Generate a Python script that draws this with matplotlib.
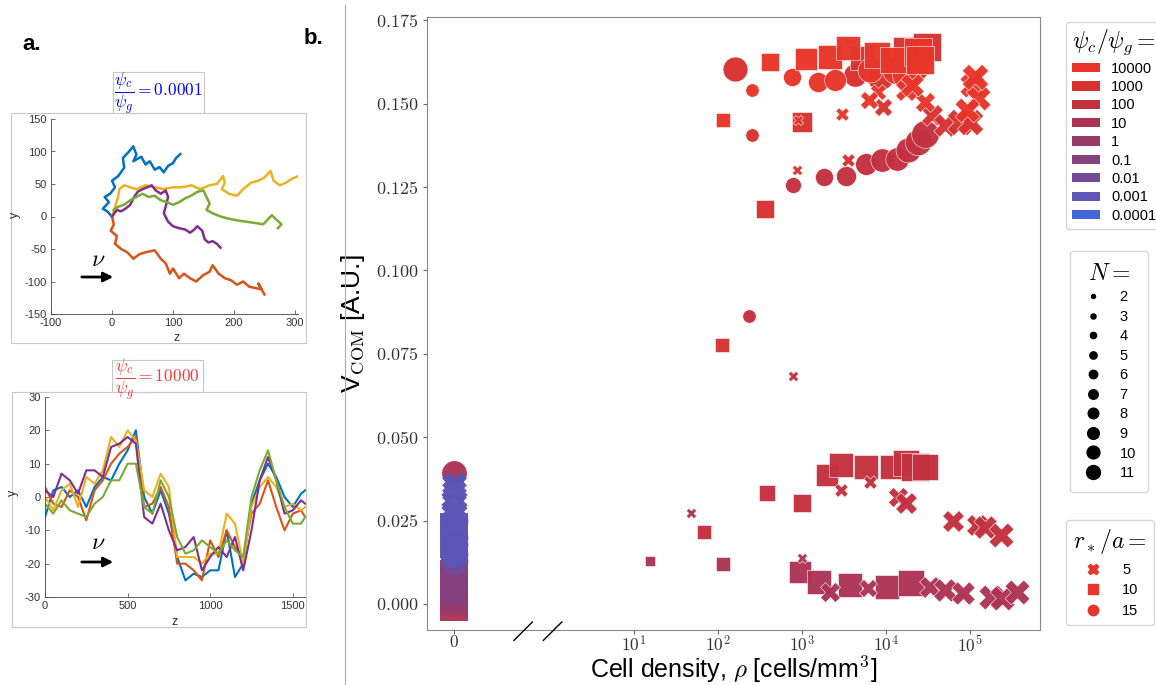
import numpy as np
import matplotlib
matplotlib.use('Agg')
import matplotlib.pyplot as plt
from matplotlib.lines import Line2D
from matplotlib.patches import Patch, Rectangle, FancyArrowPatch
from matplotlib.transforms import blended_transform_factory

plt.rcParams['font.family'] = ['Liberation Sans', 'DejaVu Sans']
plt.rcParams['mathtext.fontset'] = 'cm'
plt.rcParams['axes.unicode_minus'] = False

W, H = 1156, 685

# ---------------- panel a: trajectories (waypoints) ----------------
matlab_colors = ['#0072BD', '#D95319', '#EDB120', '#7E2F8E', '#77AC30']

# psi_c/psi_g = 0.0001
blue_z = [0, -8, -15, -5, -12, -3, 5, 0, 10, 20, 18, 28, 35, 40, 35, 48, 55, 62, 70, 78, 85, 92, 100, 105, 112]
blue_y = [0, 8, 12, 22, 30, 35, 45, 55, 62, 75, 90, 100, 108, 95, 85, 92, 80, 85, 72, 76, 68, 78, 82, 90, 96]
orange_z = [0, 3, -2, 8, 5, 15, 25, 35, 45, 55, 70, 80, 88, 95, 100, 110, 118, 128, 138, 150, 160, 165, 175,
            185, 195, 205, 215, 225, 235, 245, 240, 250]
orange_y = [0, -12, -22, -30, -42, -50, -55, -65, -58, -55, -52, -65, -72, -88, -80, -95, -88, -95, -100, -90,
            -85, -75, -88, -95, -98, -105, -100, -108, -110, -112, -103, -120]
yellow_z = [0, 5, 10, 12, 20, 30, 40, 55, 70, 85, 100, 115, 130, 145, 160, 172, 182, 185, 180, 192, 205, 215,
            228, 240, 250, 260, 265, 275, 285, 295, 310]
yellow_y = [0, 15, 30, 42, 48, 45, 42, 48, 45, 42, 45, 45, 48, 42, 48, 50, 62, 52, 42, 35, 32, 42, 52, 55, 60,
            70, 55, 48, 52, 58, 64]
purple_z = [0, 8, 15, 22, 30, 35, 42, 50, 58, 65, 72, 80, 88, 92, 88, 85, 92, 100, 110, 120, 128, 135, 140,
            148, 152, 158, 165, 172, 178]
purple_y = [0, 10, 8, 12, 18, 28, 38, 42, 45, 48, 40, 35, 40, 30, 15, 5, -8, -15, -18, -20, -25, -20, -15,
            -22, -35, -40, -38, -42, -48]
green_z = [3, 10, 20, 30, 40, 50, 60, 70, 80, 90, 100, 110, 120, 130, 140, 150, 155, 160, 155, 165, 178, 190,
           205, 220, 235, 248, 255, 262, 270, 278, 272]
green_y = [10, 15, 18, 25, 30, 35, 30, 32, 25, 22, 18, 22, 28, 32, 38, 40, 30, 20, 10, 5, 0, -3, -6, -8, -10,
           -12, -5, 2, -5, -12, -18]

# psi_c/psi_g = 10000
z_b = [0, 50, 100, 150, 200, 250, 300, 350, 400, 450, 500, 550, 600, 650, 700, 750, 800, 850, 900, 950,
       1000, 1050, 1100, 1150, 1200, 1250, 1300, 1350, 1400, 1450, 1500, 1550, 1575]
blue_b = [-6, 2, 3, 0, 2, -3, 3, 6, 5, 10, 14, 20, 0, -5, 2, -5, -18, -25, -23, -24, -22, -22, -10, -24,
          -20, -2, 5, 10, 6, 0, -3, 1, 2]
orange_b = [3, -2, -3, 2, 0, -7, 2, 5, 10, 13, 15, 18, -3, -2, 3, -3, -20, -20, -22, -25, -13, -18, -10,
            -15, -18, -5, -2, 5, -3, -10, -5, -4, -6]
yellow_b = [0, -4, 2, 4, -3, 6, 4, 8, 18, 15, 20, 17, 2, 0, 7, 3, -18, -18, -18, -20, -17, -17, -5, -8,
            -20, -3, 3, 6, 3, -3, -2, -4, -3]
purple_b = [2, 0, 7, 5, 1, 8, 8, 6, 15, 16, 18, 16, -6, -8, -2, -10, -16, -15, -12, -22, -18, -15, -18,
            -12, -22, -10, 5, 12, 5, -5, -4, -1, -2]
green_b = [-2, -5, -1, -4, -5, -6, -2, 0, 5, 5, 10, 10, -3, -5, 5, 0, -12, -17, -16, -13, -15, -17, -13,
           -16, -18, 0, 8, 14, 5, -3, -8, -8, -6]

# ---------------- panel b: V_COM vs cell density ----------------
ratio_labels = ['10000', '1000', '100', '10', '1', '0.1', '0.01', '0.001', '0.0001']
ratio_colors = ['#E8352A', '#D8322F', '#C3303F', '#AD3353', '#983A68', '#86417F', '#744A99', '#5E55B6', '#4466DB']
n_values = [2, 3, 4, 5, 6, 7, 8, 9, 10, 11]
r_values = [5, 10, 15]

# ratio 10
rho_10 = [15.5, 115, 950, 1600, 3700, 10300, 19500, 47, 1000, 2150, 6100, 33000, 50000, 83000, 175000, 240000, 360000]
v_10 = [0.0129, 0.012, 0.0096, 0.0066, 0.0057, 0.0051, 0.0063, 0.0273, 0.0138, 0.0036, 0.0048, 0.005, 0.0042,
        0.0033, 0.0021, 0.0018, 0.0036]
n_10 = [2, 3, 7, 9, 9, 9, 10, 2, 2, 6, 5, 7, 8, 8, 9, 9, 9]
r_10 = [10, 10, 10, 10, 10, 10, 10, 5, 5, 5, 5, 5, 5, 5, 5, 5, 5]

# ratio 100
rho_100 = [780, 1800, 3300, 5800, 9000, 13500, 18000, 24000, 29000, 230,
           68, 380, 1000, 2000, 2900, 5750, 11800, 17000, 22000, 29000,
           780, 2900, 6500, 14000, 17000, 62000, 120000, 150000, 230000]
v_100 = [0.1257, 0.128, 0.1284, 0.132, 0.1332, 0.1335, 0.1362, 0.1386, 0.141, 0.0864,
         0.0216, 0.0333, 0.0303, 0.0387, 0.0417, 0.0411, 0.0411, 0.0423, 0.0411, 0.0411,
         0.0684, 0.0342, 0.0366, 0.032, 0.0303, 0.025, 0.0237, 0.0231, 0.0207]
n_100 = [4, 5, 6, 7, 8, 8, 9, 10, 11, 3,
         3, 4, 5, 7, 8, 8, 9, 10, 11, 10,
         2, 3, 3, 6, 7, 7, 7, 8, 9]
r_100 = [15] * 10 + [10] * 10 + [5] * 9

# ratio 1000
rho_1000 = [160, 250, 4300, 8500, 22000, 1000, 360, 112, 5100, 17000, 31000,
            880, 3500, 9200, 35000, 50000, 76000, 100000]
v_1000 = [0.1605, 0.1407, 0.1587, 0.158, 0.161, 0.1446, 0.1185, 0.0777, 0.1638, 0.166, 0.167,
          0.130, 0.1332, 0.149, 0.1467, 0.1437, 0.1446, 0.1446]
n_1000 = [9, 3, 8, 10, 11, 6, 5, 3, 9, 10, 11, 2, 3, 5, 7, 8, 10, 10]
r_1000 = [15] * 5 + [10] * 6 + [5] * 7

# ratio 10000
rho_10000 = [250, 760, 1550, 2450, 6500, 13000, 17000,
             115, 420, 1100, 2150, 3550, 7800, 12000, 24000, 25000,
             890, 3000, 8000, 6200, 29000, 17000, 20500, 105000, 125000, 91000, 115000]
v_10000 = [0.154, 0.158, 0.1566, 0.157, 0.160, 0.160, 0.1587,
           0.145, 0.1626, 0.1635, 0.164, 0.1668, 0.1647, 0.163, 0.1656, 0.163,
           0.145, 0.147, 0.1536, 0.151, 0.1506, 0.154, 0.1557, 0.1557, 0.1518, 0.148, 0.158]
n_10000 = [3, 5, 6, 7, 9, 11, 11,
           3, 5, 7, 8, 9, 10, 10, 11, 11,
           2, 3, 4, 5, 6, 7, 8, 9, 9, 9, 10]
r_10000 = [15] * 7 + [10] * 9 + [5] * 11

# points at rho = 0, stacked column
col_ratio = ['10', '10', '10', '1', '1', '1', '0.1', '0.1', '0.1', '0.01', '0.01',
             '0.001', '0.001', '0.001', '0.001', '0.001', '0.001', '0.001', '0.001', '0.001']
col_v = [0.0392, -0.001, 0.003, 0.001, 0.005, 0.009, 0.004, 0.008, 0.007, 0.013, 0.018,
         0.015, 0.020, 0.025, 0.018, 0.023, 0.028, 0.031, 0.034, 0.036]
col_n = [9, 11, 11, 11, 11, 11, 11, 11, 11, 11, 11, 11, 11, 11, 11, 11, 10, 10, 9, 9]
col_r = [15, 10, 10, 10, 10, 10, 10, 10, 5, 15, 15, 15, 15, 15, 10, 10, 5, 5, 5, 5]

marker_of = {5: 'X', 10: 's', 15: 'o'}
color_of = dict(zip(ratio_labels, ratio_colors))
u_zero = -1.143  # position of the "0" density on the broken axis (in decades)


def fig_box(x0, y0, x1, y1):
    return [x0 / W, 1 - y1 / H, (x1 - x0) / W, (y1 - y0) / H]


def size_of(n):
    return 55 + (n - 2) * 38


fig = plt.figure(figsize=(W / 100, H / 100), dpi=100)

# ---- panel a frames and titles
for (x0, y0, x1, y1) in [(11, 113, 306, 343), (113, 72, 204, 113), (12, 392, 306, 627), (112, 360, 203, 392)]:
    fig.add_artist(Rectangle((x0 / W, 1 - y1 / H), (x1 - x0) / W, (y1 - y0) / H, transform=fig.transFigure,
                             fill=False, edgecolor='#c8c8c8', linewidth=0.8))
fig.text(158 / W, 1 - 93 / H, r'$\dfrac{\psi_c}{\psi_g} = 0.0001$', color='#0000ff', fontsize=12.5,
         ha='center', va='center')
fig.text(157 / W, 1 - 379 / H, r'$\dfrac{\psi_c}{\psi_g} = 10000$', color='#ee3b3b', fontsize=12.5,
         ha='center', va='center')

ax1 = fig.add_axes(fig_box(51, 119, 298, 314))
for zz, yy, c in zip([blue_z, orange_z, yellow_z, purple_z, green_z],
                     [blue_y, orange_y, yellow_y, purple_y, green_y], matlab_colors):
    ax1.plot(zz, yy, color=c, lw=1.8)
ax1.set_xlim(-100, 305)
ax1.set_ylim(-150, 150)
ax1.set_xticks([-100, 0, 100, 200, 300])
ax1.set_yticks([-150, -100, -50, 0, 50, 100, 150])

ax2 = fig.add_axes(fig_box(45, 397, 306, 597))
for yy, c in zip([blue_b, orange_b, yellow_b, purple_b, green_b], matlab_colors):
    ax2.plot(z_b, yy, color=c, lw=1.5)
ax2.set_xlim(0, 1580)
ax2.set_ylim(-30, 30)
ax2.set_xticks([0, 500, 1000, 1500])
ax2.set_yticks([-30, -20, -10, 0, 10, 20, 30])

for a in (ax1, ax2):
    for side in ('top', 'right'):
        a.spines[side].set_visible(False)
    for side in ('left', 'bottom'):
        a.spines[side].set_color('#444444')
        a.spines[side].set_linewidth(0.6)
    a.tick_params(direction='in', length=3, width=0.5, labelsize=8, colors='#333333', pad=3)

fig.text(15 / W, 1 - 215 / H, 'y', rotation=90, fontsize=9, color='#333333', ha='center', va='center')
fig.text(177 / W, 1 - 338 / H, 'z', fontsize=9, color='#333333', ha='center', va='center')
fig.text(13 / W, 1 - 493 / H, 'y', rotation=90, fontsize=9, color='#333333', ha='center', va='center')
fig.text(175 / W, 1 - 622 / H, 'z', fontsize=9, color='#333333', ha='center', va='center')

for ya, yv in [(277, 260), (562, 543)]:
    fig.add_artist(FancyArrowPatch((79 / W, 1 - ya / H), (116 / W, 1 - ya / H),
                                   transform=fig.transFigure, arrowstyle='-|>',
                                   mutation_scale=14, color='k', lw=2))
    fig.text(98 / W, 1 - yv / H, r'$\nu$', fontsize=17, ha='center', va='center')

fig.text(22 / W, 1 - 45 / H, 'a.', fontsize=16, fontweight='bold', va='center')
fig.text(304 / W, 1 - 38 / H, 'b.', fontsize=16, fontweight='bold', va='center')
fig.add_artist(Line2D([345 / W, 345 / W], [0, 1 - 5 / H], transform=fig.transFigure, color='#aaaaaa', lw=0.8))

# ---- panel b
ax = fig.add_axes(fig_box(427, 17, 1040, 630))

groups = [('10', rho_10, v_10, n_10, r_10), ('100', rho_100, v_100, n_100, r_100),
          ('1000', rho_1000, v_1000, n_1000, r_1000), ('10000', rho_10000, v_10000, n_10000, r_10000)]
for lab, rr, vv, nn, rs in groups:
    for rho_i, v_i, n_i, r_i in zip(rr, vv, nn, rs):
        ax.scatter(np.log10(rho_i), v_i, s=size_of(n_i), c=color_of[lab], marker=marker_of[r_i],
                   edgecolors='#ffffff99', linewidths=0.4, alpha=0.97, zorder=3)
for lab, v_i, n_i, r_i in zip(col_ratio, col_v, col_n, col_r):
    ax.scatter(u_zero, v_i, s=size_of(n_i), c=color_of[lab], marker=marker_of[r_i],
               linewidths=0, alpha=0.97, zorder=3)

ax.set_xlim(-1.464, 5.83)
ax.set_ylim(-0.0078, 0.176)
ax.set_xticks([u_zero, 1, 2, 3, 4, 5])
ax.set_xticklabels(['$0$', '$10^{1}$', '$10^{2}$', '$10^{3}$', '$10^{4}$', '$10^{5}$'])
yt = np.arange(0, 0.176, 0.025)
ax.set_yticks(yt)
ax.set_yticklabels(['${:.3f}$'.format(t) for t in yt])
ax.tick_params(labelsize=13, colors='#666666', labelcolor='#333333', length=3, width=0.8)
ax.tick_params(axis='x', pad=0, labelsize=12.5)
for side in ax.spines:
    ax.spines[side].set_color('#888888')

tr = blended_transform_factory(ax.transData, ax.transAxes)
for x0, x1 in [(-0.43, -0.21), (-0.08, 0.14)]:
    ax.plot([x0, x1], [-0.017, 0.013], transform=tr, color='k', lw=1, clip_on=False, zorder=5)

ax.set_xlabel(r'Cell density, $\rho$ [cells/mm$^3$]', fontsize=18, labelpad=0)
ax.set_ylabel(r'V$_{\rm COM}$ [A.U.]', fontsize=19, labelpad=6)

# ---- legends
h1 = [Patch(facecolor=c, edgecolor='none', label=l) for c, l in zip(ratio_colors, ratio_labels)]
fig.legend(handles=h1, title=r'$\psi_c/\psi_g =$', loc='upper left', bbox_to_anchor=(1066 / W, 1 - 22 / H),
           fontsize=10.5, title_fontsize=17, handlelength=1.9, handleheight=0.6, labelspacing=0.3,
           edgecolor='#cccccc', borderaxespad=0, borderpad=0.4)
h2 = [Line2D([], [], marker='o', color='k', linestyle='', markersize=2.9 + (n - 2) * 0.79, label=str(n))
      for n in n_values]
fig.legend(handles=h2, title=r'$N =$', loc='upper left', bbox_to_anchor=(1070 / W, 1 - 251 / H),
           fontsize=10.5, title_fontsize=17, handlelength=1.6, handletextpad=1.0, labelspacing=0.38,
           edgecolor='#cccccc', borderaxespad=0, borderpad=0.8)
h3 = [Line2D([], [], marker=marker_of[r], color='#E8352A', linestyle='', markersize=7.5, label=str(r))
      for r in r_values]
fig.legend(handles=h3, title=r'$r_*/a =$', loc='upper left', bbox_to_anchor=(1066 / W, 1 - 520 / H),
           fontsize=10.5, title_fontsize=17, handlelength=1.6, handletextpad=1.2, labelspacing=0.45,
           edgecolor='#cccccc', borderaxespad=0, borderpad=0.5)

fig.savefig('out.png', dpi=100)
